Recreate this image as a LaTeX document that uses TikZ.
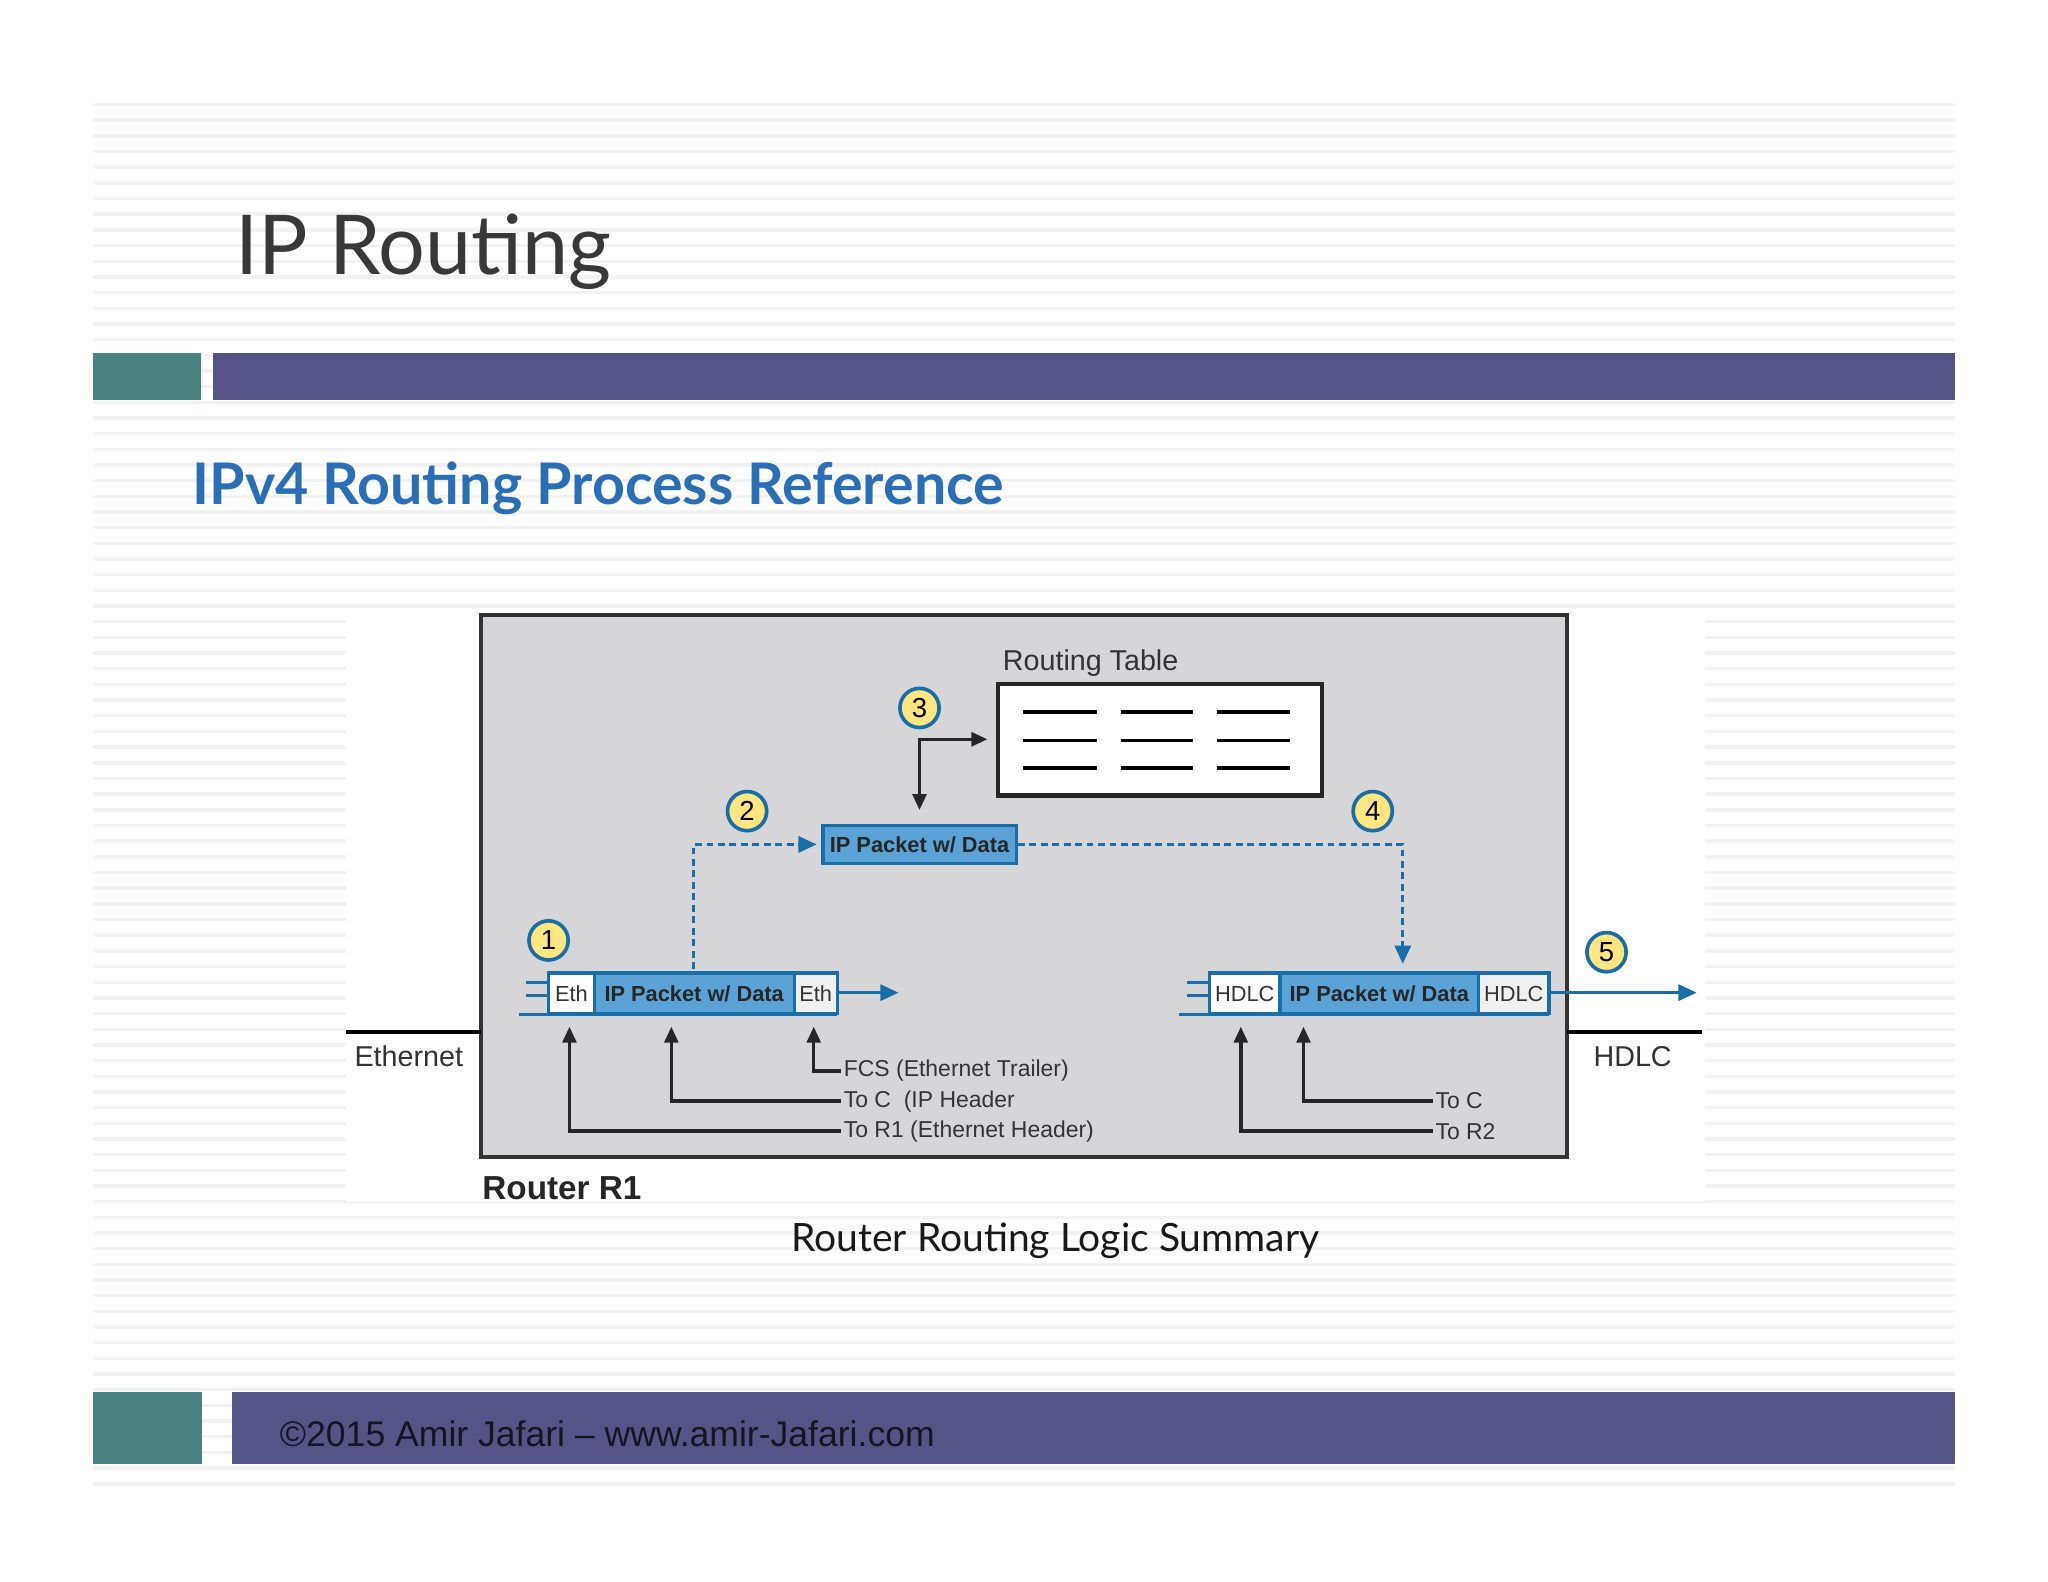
\documentclass[tikz,border=0pt]{standalone}
\usepackage{fontspec}
\setmainfont{Liberation Sans}
\newfontfamily\lato{Lato}
\usetikzlibrary{arrows.meta}
\definecolor{teal1}{HTML}{4A8282}
\definecolor{purp}{HTML}{565387}
\definecolor{head}{HTML}{2A6EB5}
\definecolor{pblue}{HTML}{5BA3D6}
\definecolor{pedge}{HTML}{1A6EA8}
\definecolor{rgray}{HTML}{D6D6D8}
\definecolor{yel}{HTML}{FFE680}
\begin{document}
\begin{tikzpicture}[x=0.02cm,y=-0.02cm,
  num/.style={circle,draw=pedge,line width=1.6pt,fill=yel,minimum size=30*0.569pt,inner sep=0pt,font=\fontsize{12}{12}\selectfont},
  lbl/.style={font=\fontsize{10}{11}\selectfont,text=black!80,anchor=west,inner sep=1pt},
  pk/.style={font=\fontsize{9.5}{10}\selectfont\bfseries,text=black!85,inner sep=0pt},
  pkl/.style={font=\fontsize{9.5}{10}\selectfont,text=black!80,inner sep=0pt},
  blk/.style={-{Triangle[length=7pt,width=6pt]},line width=1.5pt,draw=black!85},
  bl/.style={-{Triangle[length=8pt,width=7pt]},line width=1.4pt,draw=pedge},
  dsh/.style={bl,dashed,dash pattern=on 3pt off 2pt}]
\useasboundingbox (0,0) rectangle (1568,1211);
\fill[white] (0,0) rectangle (1568,1211);
\foreach \y in {80,92,...,1140} \draw[gray!10,line width=1.5pt] (71,\y) -- (1497,\y);
\fill[white] (265,470) rectangle (1305,920);
% title bars
\node[anchor=base west,inner sep=0,font=\lato\fontsize{36}{36}\selectfont,text=black!78] (title) at (180,210) {IP Routing};
\fill[teal1] (71,270) rectangle (154,306);
\fill[purp] (163,270) rectangle (1497,306);
\node[anchor=west,inner sep=0,font=\lato\fontsize{25}{25}\selectfont\bfseries,text=head] (sub) at (147,374) {IPv4 Routing Process Reference};
% router
\draw[draw=black!80,fill=rgray,line width=1.8pt] (368,471) rectangle (1200,886);
\draw[line width=1.5pt] (265,790) -- (368,790);
\draw[line width=1.5pt] (1200,790) -- (1303,790);
\node[font=\fontsize{12.5}{13}\selectfont,text=black!80] (eth) at (313,809) {Ethernet};
\node[font=\fontsize{12.5}{13}\selectfont,text=black!80] (hd) at (1250,809) {HDLC};
\node[anchor=west,inner sep=0,font=\fontsize{14.5}{15}\selectfont\bfseries,text=black!85] (r1) at (369,910) {Router R1};
% routing table
\node[font=\fontsize{12.5}{13}\selectfont,text=black!80] (rtl) at (835,508) {Routing Table};
\draw[draw=black!85,fill=white,line width=1.8pt] (764,524) rectangle (1012,609);
\foreach \a/\b in {783/840,858/913,932/988}
  \foreach \y in {545,567,588} \draw[line width=1.5pt] (\a,\y) -- (\b,\y);
\coordinate (tbl) at (756,566);
% middle packet
\node[pk,draw=pedge,line width=1.4pt,fill=pblue,minimum width=148*0.569pt,minimum height=29*0.569pt] (mid) at (704,646.5) {IP Packet w/ Data};
\draw[blk,{Triangle[length=7pt,width=6pt]}-{Triangle[length=7pt,width=6pt]}] ([yshift=6pt]mid.north) |- (tbl);
% left packet
\fill[white] (420,745) rectangle (455,776);
\fill[pblue] (455,745) rectangle (608,776);
\fill[gray!12] (608,745) rectangle (641,776);
\draw[pedge,line width=1.4pt] (420,745) rectangle (641,776) (455,745)--(455,776) (608,745)--(608,776);
\draw[pedge,line width=1.4pt] (397,777)--(641,777) (403,752)--(420,752) (403,762)--(420,762);
\node[pkl] (le1) at (437.5,761) {Eth};
\node[pk] (lp) at (531.5,761) {IP Packet w/ Data};
\node[pkl] (le2) at (624.5,761) {Eth};
\coordinate (la) at (688,760);
\draw[bl] (641,760) -- (la);
% right packet
\fill[white] (926,745) rectangle (980,776);
\fill[pblue] (980,745) rectangle (1132,776);
\fill[gray!12] (1132,745) rectangle (1186,776);
\draw[pedge,line width=1.4pt] (926,745) rectangle (1186,776) (980,745)--(980,776) (1132,745)--(1132,776);
\draw[pedge,line width=1.4pt] (903,777)--(1186,777) (909,752)--(926,752) (909,762)--(926,762);
\node[pkl] (rh1) at (953,761) {HDLC};
\node[pk] (rp) at (1056,761) {IP Packet w/ Data};
\node[pkl] (rh2) at (1159,761) {HDLC};
\coordinate (ra) at (1299,760);
\draw[bl] (1186,760) -- (ra);
% dashed flows
\coordinate (d1) at (531,742);
\draw[dsh] (d1) |- ([xshift=-2pt]mid.west);
\coordinate (d2) at (1074,738);
\draw[dsh] (mid.east) -| (d2);
% numbers
\node[num] (n1) at (420,720) {1};
\node[num] (n2) at (572,621) {2};
\node[num] (n3) at (704,542) {3};
\node[num] (n4) at (1051,621) {4};
\node[num] (n5) at (1230,729) {5};
% labels
\node[lbl] (t1) at (644,820) {FCS (Ethernet Trailer)};
\node[lbl] (t2) at (644,843) {To C\ \ (IP Header};
\node[lbl] (t3) at (644,866) {To R1 (Ethernet Header)};
\draw[blk] (t1.west) -| (623,786);
\draw[blk] (t2.west) -| (514,786);
\draw[blk] (t3.west) -| (436,786);
\node[lbl] (t4) at (1097,843) {To C};
\node[lbl] (t5) at (1097,866) {To R2};
\draw[blk] (t4.west) -| (998,786);
\draw[blk] (t5.west) -| (950,786);
% caption + footer
\node[font=\lato\fontsize{17}{17}\selectfont,text=black!90] (cap) at (808,950) {Router Routing Logic Summary};
\fill[teal1] (71,1066) rectangle (155,1121);
\fill[purp] (178,1066) rectangle (1497,1121);
\node[anchor=west,inner sep=0,font=\fontsize{15.5}{16}\selectfont,text=black!75!purp] (ft) at (214,1098) {©2015 Amir Jafari – www.amir-Jafari.com};
\end{tikzpicture}
\end{document}
